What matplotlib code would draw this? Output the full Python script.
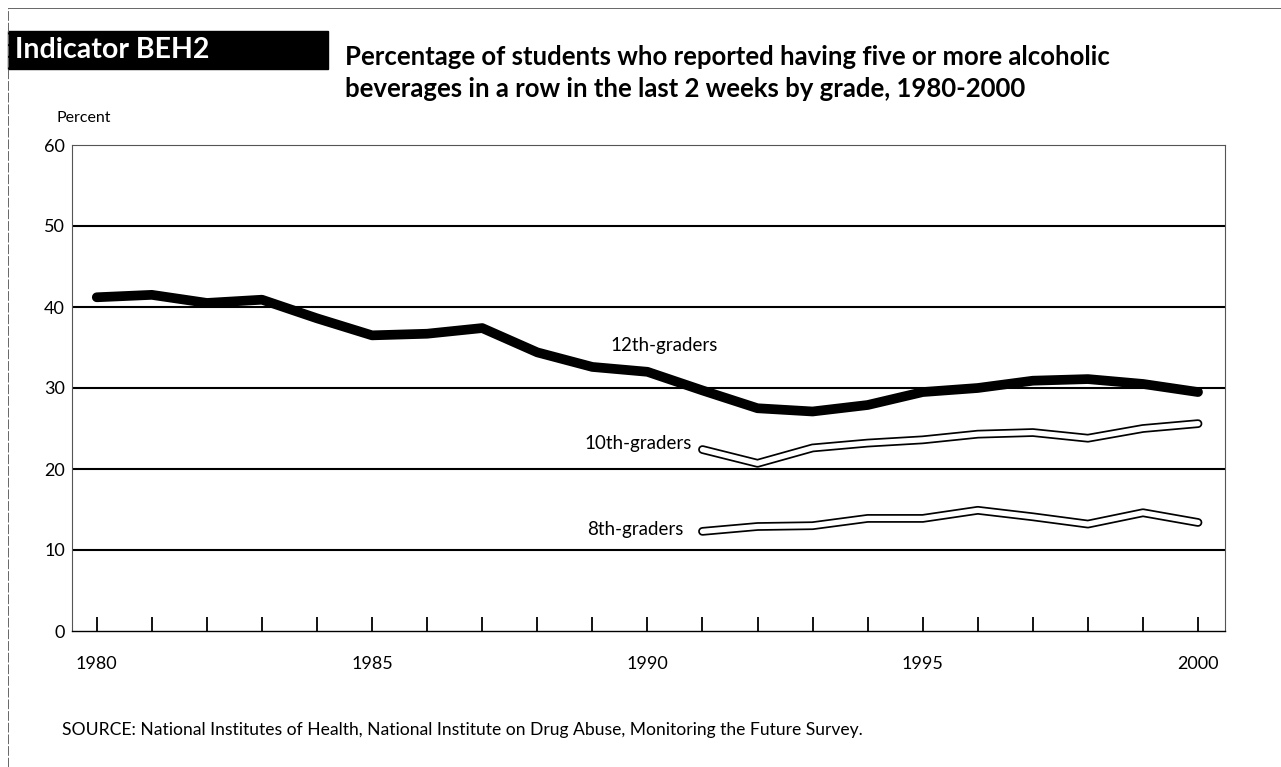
import matplotlib.pyplot as plt
from matplotlib.patches import Rectangle
from matplotlib.lines import Line2D
import matplotlib.patheffects as pe

plt.rcParams['font.family'] = ['Lato', 'DejaVu Sans']

# Values
years_12 = list(range(1980, 2001))
grade_12 = [41.2, 41.5, 40.5, 40.9, 38.6, 36.5, 36.7, 37.4, 34.4, 32.6, 32.0,
            29.7, 27.5, 27.1, 27.9, 29.5, 30.0, 30.9, 31.1, 30.5, 29.5]
years_lower = list(range(1991, 2001))
grade_10 = [22.4, 20.7, 22.6, 23.2, 23.6, 24.3, 24.5, 23.8, 25.0, 25.6]
grade_8 = [12.3, 12.9, 13.0, 13.9, 13.9, 14.9, 14.1, 13.2, 14.6, 13.4]

x_ticks = [1980, 1985, 1990, 1995, 2000]
y_ticks = [0, 10, 20, 30, 40, 50, 60]

fig = plt.figure(figsize=(12.81, 7.67), dpi=100)
ax = fig.add_axes([72/1281, 1 - 631/767, (1225-72)/1281, (631-145)/767])

ax.set_xlim(1979.55, 2000.49)
ax.set_ylim(0, 60)

#grid lines
for v in y_ticks[1:-1]:
    ax.axhline(v, color='black', lw=1.5, zorder=1)

#12th graders: thick black line
ax.plot(years_12, grade_12, color='black', lw=7, solid_capstyle='round',
        solid_joinstyle='round', zorder=3)

#10th and 8th: hollow lines (black outline, white inside)
for vals in (grade_10, grade_8):
    ax.plot(years_lower, vals, color='white', lw=3.8, solid_capstyle='round',
            solid_joinstyle='round', zorder=4,
            path_effects=[pe.Stroke(linewidth=6.3, foreground='black'), pe.Normal()])

ax.text(1990.3, 35.3, '12th-graders', fontsize=13.5, ha='center', va='center')
ax.text(1990.8, 23.2, '10th-graders', fontsize=13.5, ha='right', va='center')
ax.text(1990.65, 12.5, '8th-graders', fontsize=13.5, ha='right', va='center')

#frame
for s in ['top', 'right', 'left']:
    ax.spines[s].set_linewidth(0.8)
    ax.spines[s].set_color('#555555')
    ax.spines[s].set_linestyle((0, (8, 1)))
ax.spines['bottom'].set_linewidth(1.0)

#ticks: short inward marks at every year
ax.set_xticks(years_12, minor=True)
ax.set_xticks(x_ticks)
ax.set_xticklabels([str(y) for y in x_ticks], fontsize=13)
ax.tick_params(axis='x', which='both', direction='in', length=10, width=1.3,
               pad=18)
ax.set_yticks(y_ticks)
ax.set_yticklabels([str(v) for v in y_ticks], fontsize=13)
ax.tick_params(axis='y', length=0, pad=5)

#header block and titles
fig.add_artist(Rectangle((8/1281, 1 - 69/767), 320/1281, 38/767,
                         transform=fig.transFigure, color='black'))
fig.text(15/1281, 1 - 50/767, 'Indicator BEH2', color='white', fontsize=20.5,
         fontweight='bold', va='center')
fig.text(345/1281, 1 - 57/767,
         'Percentage of students who reported having five or more alcoholic',
         fontsize=18.5, fontweight='bold', va='center')
fig.text(345/1281, 1 - 89/767,
         'beverages in a row in the last 2 weeks by grade, 1980-2000',
         fontsize=18.5, fontweight='bold', va='center')
fig.text(57/1281, 1 - 118/767, 'Percent', fontsize=11.5, va='center')
fig.text(62/1281, 1 - 730/767,
         'SOURCE: National Institutes of Health, National Institute on Drug Abuse, '
         'Monitoring the Future Survey.', fontsize=12.6, va='center')

#outer frame lines of the page
fig.add_artist(Line2D([8/1281, 1], [1 - 8/767, 1 - 8/767], color='#666666',
                      lw=0.7, transform=fig.transFigure))
fig.add_artist(Line2D([8/1281, 8/1281], [0, 1 - 8/767], color='#666666',
                      lw=0.7, linestyle=(0, (10, 2)), transform=fig.transFigure))

fig.savefig('out.png', dpi=100)
